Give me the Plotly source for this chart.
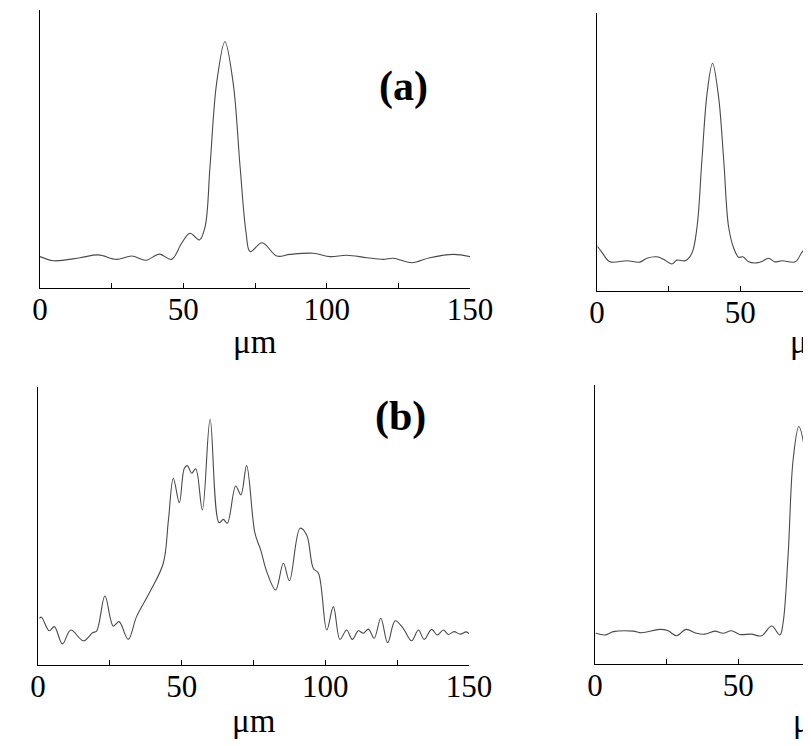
import plotly.graph_objects as go

# Panel (a)
a_x = [0, 4.7, 14, 20.3, 26.7, 32, 37, 41.6, 45.9, 49.4, 52.3, 55.6, 57.6, 59.3, 61.6, 64.5,
       67.4, 69.8, 71.9, 73.3, 77.5, 82.6, 87.2, 95.3, 101.2, 107, 114, 119.8, 123.2, 129.7,
       136, 144.2, 150]
a_y = [0.113, 0.098, 0.109, 0.119, 0.103, 0.115, 0.100, 0.122, 0.103, 0.161, 0.197, 0.173,
       0.221, 0.436, 0.736, 0.886, 0.736, 0.436, 0.197, 0.131, 0.163, 0.115, 0.121, 0.125,
       0.113, 0.118, 0.109, 0.103, 0.107, 0.091, 0.109, 0.121, 0.113]

# Panel (b)
b_x = [0.5, 1.2, 3.9, 5.7, 8.5, 11.4, 15.8, 19, 20.4, 23.3, 26.2, 28.2, 31.4, 34.3, 39, 43.6,
       45.4, 47.1, 49.2, 50.9, 52, 53.5, 54.9, 57.2, 59.9, 63, 64.5, 65.9, 68.8, 70.6, 72.6,
       75.5, 77.5, 79.6, 82.7, 85.4, 87.5, 91.2, 93.5, 95.8, 97.6, 100.5, 102.8, 105.1, 107.4,
       109.4, 111.5, 113.2, 115, 117, 119.3, 121.7, 124.3, 127.1, 130, 132.4, 134.4, 137, 139,
       141.1, 142.8, 144.8, 146.9, 149, 150]
b_y = [0.168, 0.172, 0.123, 0.138, 0.076, 0.126, 0.087, 0.116, 0.122, 0.248, 0.140, 0.156,
       0.092, 0.174, 0.264, 0.366, 0.522, 0.672, 0.584, 0.707, 0.717, 0.690, 0.706, 0.558,
       0.884, 0.512, 0.524, 0.510, 0.644, 0.612, 0.717, 0.474, 0.414, 0.336, 0.270, 0.366,
       0.303, 0.492, 0.468, 0.348, 0.330, 0.126, 0.210, 0.092, 0.126, 0.092, 0.123, 0.114,
       0.129, 0.096, 0.168, 0.080, 0.159, 0.132, 0.087, 0.126, 0.092, 0.128, 0.108, 0.126,
       0.110, 0.120, 0.111, 0.119, 0.113]

# Right top panel (visible part)
c_x = [0.2, 1.6, 4.5, 10.4, 15, 17.4, 20.9, 23.2, 26.1, 27.9, 30.8, 33.1, 34.9, 36.6, 38.4,
       40.3, 42.4, 44.2, 45.9, 47.7, 49.4, 50.9, 52.9, 55.8, 57.5, 59.9, 61.9, 64.6, 69.2,
       72.1, 74.5, 76]
c_y = [0.160, 0.141, 0.105, 0.109, 0.104, 0.118, 0.123, 0.114, 0.097, 0.111, 0.109, 0.136,
       0.231, 0.471, 0.711, 0.819, 0.699, 0.471, 0.231, 0.154, 0.121, 0.123, 0.105, 0.101,
       0.106, 0.118, 0.105, 0.109, 0.105, 0.145, 0.123, 0.118]

# Right bottom panel (visible part)
d_x = [0.3, 3.5, 6.4, 13.3, 16.3, 22.6, 25.5, 28.5, 31.7, 35.4, 38.3, 41.8, 44.7, 47.6, 50.5,
       54.5, 58.1, 61.6, 64.5, 65.6, 67.4, 69.1, 71.1, 73.2, 74.9, 76]
d_y = [0.110, 0.104, 0.116, 0.118, 0.112, 0.124, 0.119, 0.101, 0.124, 0.110, 0.107, 0.118,
       0.110, 0.119, 0.106, 0.107, 0.101, 0.136, 0.104, 0.146, 0.397, 0.731, 0.851, 0.767,
       0.552, 0.45]

tick_vals = [0, 25, 50, 75, 100, 125, 150]
tick_text = ["0", "", "50", "", "100", "", "150"]
unit_label = "μm"
panel_labels = ["(a)", "(b)"]

# page has an 8px body margin; figure occupies page pixels 8..811 / 8..746
OFF = 8
W, H = 811 - OFF, 746 - OFF
PAGE_R = 811
def dx(p0, p1):
    return [(p0 - OFF) / W, min((p1 - OFF) / W, 1.0)]
def dy(top, bottom):
    return [(H - (bottom - OFF)) / H, (H - (top - OFF)) / H]

SERIF = "Liberation Serif"

fig = go.Figure()
line = dict(color="#4a4a4a", width=1.1, shape="spline", smoothing=1.0)
fig.add_trace(go.Scatter(x=a_x, y=a_y, mode="lines", line=line, xaxis="x", yaxis="y"))
fig.add_trace(go.Scatter(x=b_x, y=b_y, mode="lines", line=line, xaxis="x2", yaxis="y2"))
fig.add_trace(go.Scatter(x=c_x, y=c_y, mode="lines", line=line, xaxis="x3", yaxis="y3"))
fig.add_trace(go.Scatter(x=d_x, y=d_y, mode="lines", line=line, xaxis="x4", yaxis="y4"))

px_per = 430 / 150
xcommon = dict(showline=True, linecolor="black", linewidth=1.3, ticks="inside", ticklen=5,
               tickwidth=1, tickcolor="black", tickvals=tick_vals, ticktext=tick_text,
               showgrid=False, zeroline=False, fixedrange=True, automargin=False,
               ticklabelstandoff=-6,
               tickfont=dict(family=SERIF, size=31, color="black"))
ycommon = dict(showline=True, linecolor="black", linewidth=1.3, ticks="", showticklabels=False,
               showgrid=False, zeroline=False, range=[0, 1], fixedrange=True, automargin=False)

fig.update_layout(
    template="none",
    width=W, height=H, margin=dict(l=0, r=0, t=0, b=0, pad=0), autosize=False,
    paper_bgcolor="white", plot_bgcolor="white", showlegend=False,
    xaxis=dict(xcommon, domain=dx(40, 470), range=[0, 150], anchor="y"),
    yaxis=dict(ycommon, domain=dy(10, 288), anchor="x"),
    xaxis2=dict(xcommon, domain=dx(38, 469), range=[0, 150], anchor="y2"),
    yaxis2=dict(ycommon, domain=dy(387, 665), anchor="x2"),
    xaxis3=dict(xcommon, domain=dx(597, PAGE_R), range=[0, (PAGE_R - 597) / px_per], anchor="y3"),
    yaxis3=dict(ycommon, domain=dy(13, 291), anchor="x3"),
    xaxis4=dict(xcommon, domain=dx(595, PAGE_R), range=[0, (PAGE_R - 595) / px_per], anchor="y4"),
    yaxis4=dict(ycommon, domain=dy(385, 664), anchor="x4"),
)

unit_font = dict(family=SERIF, size=33, color="black")
for xc, yc in [(255, 342), (254, 721), (812, 342), (815, 721)]:
    fig.add_annotation(text=unit_label, xref="paper", yref="paper", x=(xc - OFF) / W,
                       y=(H - (yc - OFF)) / H, xanchor="center", yanchor="middle",
                       showarrow=False, font=unit_font)
lab_font = dict(family=SERIF, size=42, color="black")
for txt, xc, yc in zip(panel_labels, [403, 400], [87, 416]):
    fig.add_annotation(text=f"<b>{txt}</b>", xref="paper", yref="paper", x=(xc - OFF) / W,
                       y=(H - (yc - OFF)) / H, xanchor="center", yanchor="middle",
                       showarrow=False, font=lab_font)

fig.write_html("out.html")
